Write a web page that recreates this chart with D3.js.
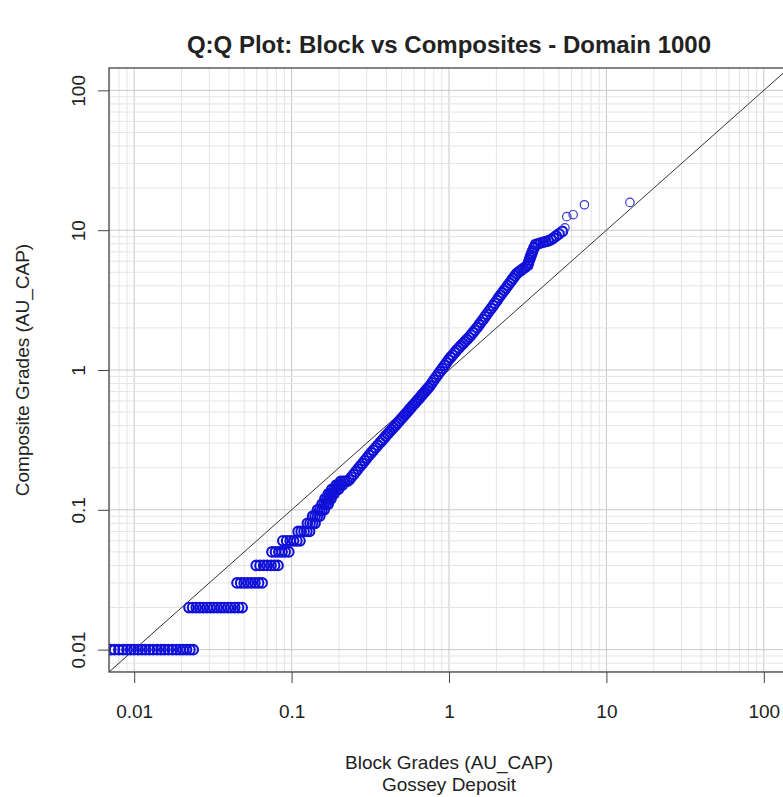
<!DOCTYPE html>
<html><head><meta charset="utf-8">
<script src="https://cdn.jsdelivr.net/npm/d3@7"></script>
<style>body{margin:0;background:#fff} svg{display:block} text{font-family:"Liberation Sans",Arial,sans-serif}</style>
</head><body><svg id="c" width="783" height="797"></svg>
<script>
// ---- data ----
const axisLimits = [0.01, 100];
const tickValues = [0.01, 0.1, 1, 10, 100];
const tickLabels = ["0.01", "0.1", "1", "10", "100"];
const titleText = "Q:Q Plot: Block vs Composites - Domain 1000";
const xLabelLines = ["Block Grades (AU_CAP)", "Gossey Deposit"];
const yLabelText = "Composite Grades (AU_CAP)";

// low-grade composites recorded at 0.01 precision: one row per composite level
const stepComposite = [0.01, 0.02, 0.03, 0.04, 0.05, 0.06, 0.07, 0.08, 0.09, 0.10, 0.11, 0.12, 0.13, 0.14, 0.15, 0.16];
const stepBlock = [
  [0.0071,0.0075,0.0080,0.0085,0.0090,0.0095,0.0100,0.0106,0.0112,0.0118,0.0125,0.0132,0.0140,0.0148,0.0156,0.0165,0.0175,0.0185,0.0195,0.0205,0.0215,0.0226,0.0237],
  [0.0223,0.0235,0.0248,0.0261,0.0275,0.0290,0.0305,0.0320,0.0337,0.0355,0.0373,0.0393,0.0413,0.0435,0.0460,0.0485],
  [0.045,0.0475,0.050,0.0527,0.0555,0.0585,0.0617,0.065],
  [0.0596,0.063,0.0665,0.070,0.074,0.078,0.082],
  [0.075,0.079,0.083,0.087,0.091,0.096],
  [0.088,0.093,0.098,0.103,0.108,0.113],
  [0.110,0.115,0.120,0.125,0.130],
  [0.126,0.131,0.136,0.141],
  [0.136,0.141,0.146,0.151],
  [0.146,0.151,0.156,0.161],
  [0.156,0.161,0.166,0.171],
  [0.163,0.168,0.173,0.178],
  [0.171,0.176,0.181,0.186],
  [0.180,0.186,0.192,0.198],
  [0.192,0.198,0.204,0.210],
  [0.205,0.212,0.218,0.225]
];

// main quantile band
const bandBlock = [
  0.2323,0.2399,0.2477,0.2559,0.2642,0.2729,0.2818,0.2911,0.3006,0.3105,0.3206,0.3311,0.3420,0.3532,0.3648,
  0.375,0.3855,0.3963,0.4083,0.4198,0.4315,0.4436,0.456,0.4688,0.4831,0.4966,0.5105,
  0.5236,0.5358,0.5495,0.5636,0.5781,0.5916,0.6067,0.6223,0.6368,0.6531,0.6699,0.6855,0.7031,0.7211,0.7379,0.7568,
  0.7798,0.8035,0.8279,0.8531,0.8790,0.9078,0.9354,0.9638,0.9931,1.0233,1.0544,1.0889,1.1220,1.1561,1.1912,1.2274,
  1.2647,1.3002,1.3397,1.3804,1.4191,1.4622,1.5066,1.5524,1.5959,1.6444,1.6943,1.7418,1.7947,1.8493,1.9055,1.9588,2.0184,
  2.070,2.128,2.183,2.239,2.301,2.360,2.427,2.489,2.553,2.624,2.692,
  2.78,2.87,2.96,3.06,3.16,
  3.20,3.24,3.28,3.32,3.36,3.40,3.47,3.55,
  3.68,3.82,3.97,4.12,4.28,4.45,4.62,4.80,5.0,5.25
];
const bandComposite = [
  0.1640,0.1714,0.1791,0.1875,0.1959,0.2051,0.2143,0.2239,0.2344,0.2455,0.2559,0.2667,0.2780,0.2897,0.3027,
  0.3126,0.3243,0.3365,0.3491,0.3622,0.3750,0.3873,0.4009,0.4159,0.4315,0.4467,0.4624,
  0.4775,0.4920,0.5082,0.5260,0.5433,0.5598,0.5781,0.5970,0.6152,0.6353,0.6577,0.6776,0.6998,0.7228,0.7447,0.7691,
  0.8102,0.8489,0.8893,0.9318,0.9762,1.0260,1.0750,1.1262,1.1798,1.2294,1.2796,1.3360,1.3903,1.4405,1.4920,1.5455,
  1.6009,1.6535,1.7124,1.7794,1.8477,1.9251,2.0058,2.1003,2.1918,2.2951,2.4038,2.5080,2.6262,2.7504,2.8800,3.0055,3.1470,
  3.289,3.428,3.565,3.707,3.855,4.018,4.178,4.345,4.519,4.710,4.898,
  5.03,5.17,5.31,5.45,5.6,
  5.85,6.10,6.35,6.6,6.85,7.1,7.5,7.9,
  8.0,8.1,8.2,8.3,8.4,8.55,8.8,9.1,9.4,9.8
];

// top-end outliers
const outlierBlock = [5.45, 5.6, 6.15, 7.25, 14.1];
const outlierComposite = [10.4, 12.5, 12.9, 15.2, 15.8];

// ---- assemble points ----
const points = [];
stepComposite.forEach((c, i) => stepBlock[i].forEach(b => points.push({b, c, out: false})));
bandBlock.forEach((b, i) => points.push({b, c: bandComposite[i], out: false}));
outlierBlock.forEach((b, i) => points.push({b, c: outlierComposite[i], out: true}));

// ---- layout ----
const svg = d3.select("#c");
const L = 109, R = 789, T = 68, B = 672;
// R-style 4% extension of the log range
const lg0 = Math.log10(axisLimits[0]), lg1 = Math.log10(axisLimits[1]);
const ext = (lg1 - lg0) * 0.04;
const dom = [Math.pow(10, lg0 - ext), Math.pow(10, lg1 + ext)];
const x = d3.scaleLog().domain(dom).range([L, R]);
const y = d3.scaleLog().domain(dom).range([B, T]);

svg.append("defs").append("clipPath").attr("id", "clip")
  .append("rect").attr("x", L).attr("y", T).attr("width", R - L).attr("height", B - T);

// grid
const gridVals = [];
for (let e = -3; e <= 2; e++) for (let k = 1; k <= 9; k++) {
  const v = k * Math.pow(10, e);
  if (v > dom[0] && v < dom[1]) gridVals.push({v, major: k === 1});
}
const grid = svg.append("g").attr("clip-path", "url(#clip)");
grid.selectAll("line.gx").data(gridVals).join("line").attr("class", "gx")
  .attr("x1", d => x(d.v)).attr("x2", d => x(d.v)).attr("y1", T).attr("y2", B)
  .attr("stroke", d => d.major ? "#c8c8c8" : "#e4e4e4").attr("stroke-width", 1);
grid.selectAll("line.gy").data(gridVals).join("line").attr("class", "gy")
  .attr("y1", d => y(d.v)).attr("y2", d => y(d.v)).attr("x1", L).attr("x2", R)
  .attr("stroke", d => d.major ? "#c8c8c8" : "#e4e4e4").attr("stroke-width", 1);

// 1:1 line
svg.append("line").attr("clip-path", "url(#clip)")
  .attr("x1", x(dom[0])).attr("y1", y(dom[0])).attr("x2", x(dom[1])).attr("y2", y(dom[1]))
  .attr("stroke", "#333").attr("stroke-width", 1);

// points
svg.append("g").attr("clip-path", "url(#clip)")
  .selectAll("circle").data(points).join("circle")
  .attr("cx", d => x(d.b)).attr("cy", d => y(d.c)).attr("r", d => d.out ? 4.2 : 4.8)
  .attr("fill", "none").attr("stroke", d => d.out ? "#3a3ad0" : "#1010d8")
  .attr("stroke-width", d => d.out ? 1.2 : 2.1);

// box
svg.append("rect").attr("x", L).attr("y", T).attr("width", R - L).attr("height", B - T)
  .attr("fill", "none").attr("stroke", "#444").attr("stroke-width", 1.3);

// axes
const xAxis = svg.append("g").attr("transform", `translate(0,${B})`)
  .call(d3.axisBottom(x).tickValues(tickValues).tickFormat((d, i) => tickLabels[i]).tickSize(11).tickSizeOuter(0).tickPadding(22));
xAxis.select(".domain").remove();
xAxis.selectAll("line").attr("stroke", "#444");
xAxis.selectAll("text").attr("font-size", 19).attr("fill", "#222").attr("font-family", "Liberation Sans, Arial, sans-serif");

const yAxis = svg.append("g").attr("transform", `translate(${L},0)`)
  .call(d3.axisLeft(y).tickValues(tickValues).tickFormat((d, i) => tickLabels[i]).tickSize(11).tickSizeOuter(0));
yAxis.select(".domain").remove();
yAxis.selectAll("line").attr("stroke", "#444");
yAxis.selectAll("text").attr("font-size", 19).attr("fill", "#222").attr("font-family", "Liberation Sans, Arial, sans-serif")
  .attr("x", null).attr("dy", null).attr("text-anchor", "middle")
  .attr("transform", "translate(-24,0) rotate(-90)");

// titles
svg.append("text").attr("x", (L + R) / 2).attr("y", 53).attr("text-anchor", "middle")
  .attr("font-size", 24).attr("font-weight", "bold").attr("fill", "#222").text(titleText);
xLabelLines.forEach((t, i) => svg.append("text").attr("x", (L + R) / 2).attr("y", 769 + i * 22)
  .attr("text-anchor", "middle").attr("font-size", 19).attr("fill", "#222").text(t));
svg.append("text").attr("transform", `translate(29,${(T + B) / 2}) rotate(-90)`)
  .attr("text-anchor", "middle").attr("font-size", 19).attr("fill", "#222").text(yLabelText);
</script></body></html>
